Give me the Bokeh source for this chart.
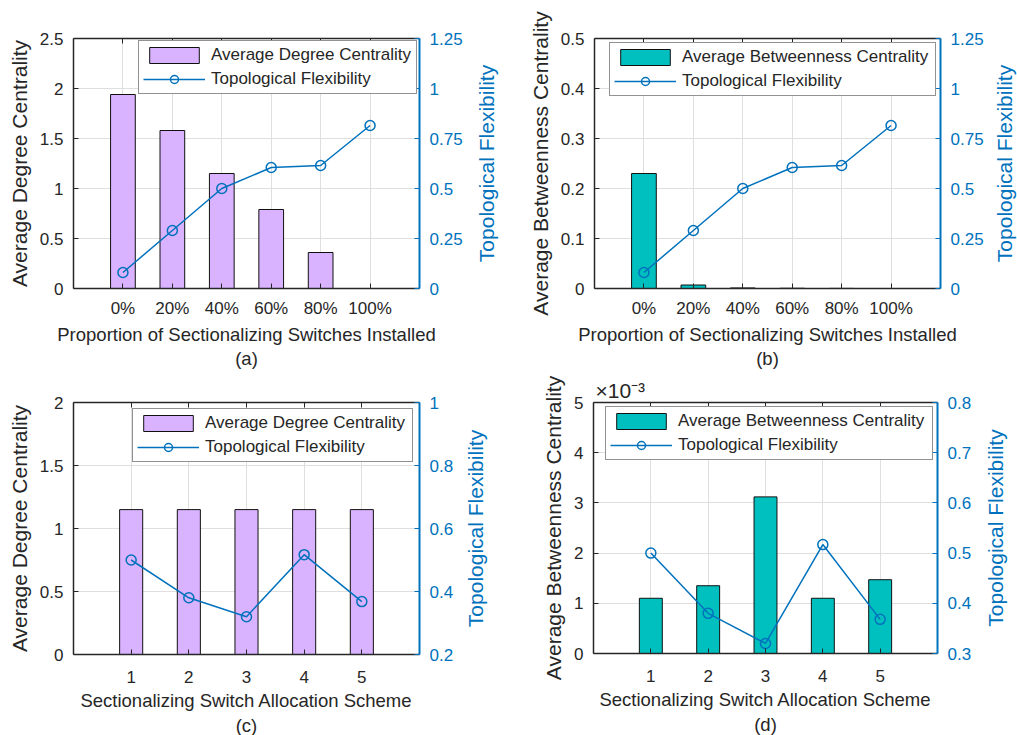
from bokeh.plotting import figure
from bokeh.models import (Range1d, LinearAxis, FixedTicker, Legend, LegendItem, Title,
                          CustomJSTickFormatter)
from bokeh.layouts import column, row
from bokeh.embed import file_html
from bokeh.resources import INLINE

# ---------------- data ----------------
prop_labels = ["0%", "20%", "40%", "60%", "80%", "100%"]
degree_by_prop = [1.94, 1.58, 1.15, 0.79, 0.36, 0.0]
betweenness_by_prop = [0.23, 0.007, 0.0011, 0.0005, 0.0002, 0.0]
flex_by_prop = [0.08, 0.29, 0.50, 0.605, 0.615, 0.815]

scheme_labels = ["1", "2", "3", "4", "5"]
degree_by_scheme = [1.15, 1.15, 1.15, 1.15, 1.15]
betweenness_by_scheme = [1.10e-3, 1.35e-3, 3.12e-3, 1.10e-3, 1.47e-3]
flex_by_scheme = [0.50, 0.38, 0.32, 0.517, 0.368]

# ---------------- style ----------------
FONT = "Liberation Sans"
DARK = "#262626"
BLUE = "#0072BD"
PURPLE = "#D9B3FF"
TEAL = "#00BFBF"
GRID = "#DFDFDF"
EDGE = "#111111"


def fmt(scale=1):
    return CustomJSTickFormatter(
        code=f"return String(Math.round(tick*{scale}*1000)/1000);")


def style_axis(ax, color, label_size, line_width=1.5):
    ax.axis_line_color = color
    ax.axis_line_width = line_width
    ax.major_tick_line_color = color
    ax.major_tick_line_width = 1
    ax.major_tick_in = 5
    ax.major_tick_out = 0
    ax.minor_tick_line_color = None
    ax.major_label_text_font = FONT
    ax.major_label_text_font_size = "17px"
    ax.major_label_text_color = color
    ax.axis_label_text_font = FONT
    ax.axis_label_text_font_size = label_size
    ax.axis_label_text_color = color
    ax.axis_label_text_font_style = "normal"


def make_panel(cats, bars, flex, bar_color, bar_width, bar_name,
               y_left, y_left_ticks, y_left_label, y_right, y_right_ticks,
               x_label, caption, geom, legend_margin, legend_label_width,
               left_scale=1, x_std=10, xlab_std=3, cap_std=0):
    n = len(cats)
    xs = list(range(1, n + 1))
    bl, br, bt, bb, fw, fh = geom
    p = figure(frame_width=fw, frame_height=fh,
               min_border_left=bl, min_border_right=br,
               min_border_top=bt, min_border_bottom=bb,
               x_range=Range1d(0, n + 1), y_range=Range1d(*y_left),
               output_backend="svg", toolbar_location=None, tools="", title=None)
    p.outline_line_color = None
    p.background_fill_color = "white"
    p.border_fill_color = "white"
    p.extra_y_ranges = {"flex": Range1d(*y_right)}

    xt = FixedTicker(ticks=xs)
    ylt = FixedTicker(ticks=y_left_ticks)
    p.xgrid.ticker = xt
    p.ygrid.ticker = ylt
    for g in (p.xgrid, p.ygrid):
        g.grid_line_color = GRID
        g.grid_line_width = 1

    xa = p.xaxis[0]
    xa.ticker = xt
    xa.major_label_overrides = {x: c for x, c in zip(xs, cats)}
    style_axis(xa, DARK, "18.5px")
    xa.axis_label = x_label
    xa.major_label_standoff = x_std
    xa.axis_label_standoff = xlab_std

    # caption below the x-axis title
    ca = LinearAxis(ticker=FixedTicker(ticks=[]), axis_label=caption)
    style_axis(ca, DARK, "18.5px")
    ca.axis_line_color = None
    ca.major_tick_line_color = None
    ca.major_label_text_font_size = "0px"
    ca.major_label_standoff = 0
    ca.axis_label_standoff = cap_std
    p.add_layout(ca, "below")

    ya = p.yaxis[0]
    ya.ticker = ylt
    ya.formatter = fmt(left_scale)
    style_axis(ya, DARK, "21px")
    ya.axis_label = y_left_label
    ya.major_label_standoff = 10
    ya.axis_label_standoff = 6

    ra = LinearAxis(y_range_name="flex", ticker=FixedTicker(ticks=y_right_ticks),
                    formatter=fmt(1))
    style_axis(ra, BLUE, "21px", line_width=2)
    ra.major_label_standoff = 10
    p.add_layout(ra, "right")

    ta = LinearAxis(ticker=xt, major_label_overrides={x: "" for x in xs})
    style_axis(ta, DARK, "10px")
    ta.major_label_text_font_size = "0px"
    ta.major_label_standoff = 0
    p.add_layout(ta, "above")

    r_bar = p.vbar(x=xs, top=bars, bottom=0, width=bar_width,
                   fill_color=bar_color, line_color=EDGE, line_width=1)
    r_line = p.line(xs, flex, y_range_name="flex", line_color=BLUE, line_width=1.5)
    r_pts = p.scatter(xs, flex, y_range_name="flex", marker="circle", size=10,
                      fill_alpha=0, line_color=BLUE, line_width=1.5)

    legend = Legend(items=[LegendItem(label=bar_name, renderers=[r_bar]),
                           LegendItem(label="Topological Flexibility",
                                      renderers=[r_line, r_pts])],
                    location="top_right", margin=legend_margin, padding=4,
                    spacing=4, glyph_width=62, glyph_height=20, label_height=20,
                    label_width=legend_label_width, label_standoff=6,
                    label_text_font=FONT, label_text_font_size="17px",
                    label_text_color=DARK, border_line_color=DARK,
                    border_line_width=1, background_fill_color="white",
                    background_fill_alpha=1)
    p.add_layout(legend)
    return p


def side_label(text, br, bt, bb, fh):
    """Narrow strip holding the right-hand axis title, read bottom to top."""
    s = figure(frame_width=1, frame_height=fh, min_border_left=22,
               min_border_right=br, min_border_top=bt, min_border_bottom=bb,
               x_range=Range1d(0, 1), y_range=Range1d(0, 1), x_axis_location=None,
               output_backend="svg", toolbar_location=None, tools="", title=None)
    s.outline_line_color = None
    s.grid.visible = False
    s.border_fill_color = "white"
    s.background_fill_color = "white"
    ax = s.yaxis[0]
    ax.ticker = FixedTicker(ticks=[])
    style_axis(ax, BLUE, "21px")
    ax.axis_line_color = None
    ax.major_tick_line_color = None
    ax.major_label_text_font_size = "0px"
    ax.major_label_standoff = 0
    ax.axis_label = text
    ax.axis_label_standoff = 1
    return s


FLEX_TITLE = "Topological Flexibility"

pa = make_panel(prop_labels, degree_by_prop, flex_by_prop, PURPLE, 0.5,
                "Average Degree Centrality", (0, 2.5), [0, 0.5, 1, 1.5, 2, 2.5],
                "Average Degree Centrality", (0, 1.25), [0, 0.25, 0.5, 0.75, 1, 1.25],
                "Proportion of Sectionalizing Switches Installed", "(a)",
                (73, 52, 37, 84, 346, 250), 2, 201)
la = side_label(FLEX_TITLE, 9, 37, 84, 250)

pb = make_panel(prop_labels, betweenness_by_prop, flex_by_prop, TEAL, 0.5,
                "Average Betweenness Centrality", (0, 0.5), [0, 0.1, 0.2, 0.3, 0.4, 0.5],
                "Average Betweenness Centrality", (0, 1.25), [0, 0.25, 0.5, 0.75, 1, 1.25],
                "Proportion of Sectionalizing Switches Installed", "(b)",
                (86, 49, 38, 83, 346, 250), 4, 249)
lb = side_label(FLEX_TITLE, 0, 38, 83, 250)

pc = make_panel(scheme_labels, degree_by_scheme, flex_by_scheme, PURPLE, 0.4,
                "Average Degree Centrality", (0, 2), [0, 0.5, 1, 1.5, 2],
                "Average Degree Centrality", (0.2, 1), [0.2, 0.4, 0.6, 0.8, 1],
                "Sectionalizing Switch Allocation Scheme", "(c)",
                (73, 41, 30, 91, 346, 252), 6, 203, x_std=16, xlab_std=4, cap_std=1)
lc = side_label(FLEX_TITLE, 20, 30, 91, 252)

pd_ = make_panel(scheme_labels, betweenness_by_scheme, flex_by_scheme, TEAL, 0.4,
                 "Average Betweenness Centrality", (0, 0.005),
                 [0, 0.001, 0.002, 0.003, 0.004, 0.005],
                 "Average Betweenness Centrality", (0.3, 0.8),
                 [0.3, 0.4, 0.5, 0.6, 0.7, 0.8],
                 "Sectionalizing Switch Allocation Scheme", "(d)",
                 (85, 43, 31, 91, 344, 251), 4, 250, left_scale=1000,
                 x_std=16, xlab_std=4, cap_std=1)
ld = side_label(FLEX_TITLE, 9, 31, 91, 251)

pd_.add_layout(Title(text="×10⁻³", align="left", offset=2, standoff=1,
                     text_font=FONT, text_font_size="21px", text_font_style="normal",
                     text_color=DARK), "above")

layout = column(row(pa, la, pb, lb), row(pc, lc, pd_, ld))
open("out.html", "w").write(file_html(layout, INLINE))
